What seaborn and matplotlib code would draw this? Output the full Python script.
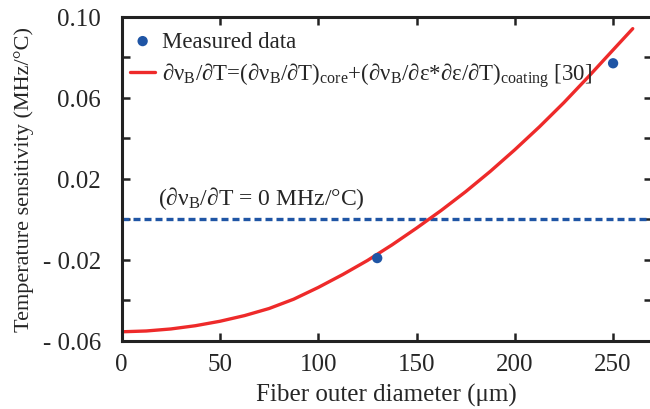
import matplotlib
matplotlib.use("Agg")
import matplotlib.pyplot as plt
import seaborn as sns
import pandas as pd
from matplotlib.ticker import FixedLocator, FuncFormatter

# fitted curve
diameter_fit = [0, 12.5, 25, 37.5, 50, 62.5, 75, 87.5, 100, 112.5, 125, 137.5,
                150, 162.5, 175, 187.5, 200, 212.5, 225, 237.5, 250, 260]
sens_fit = [-0.0557, -0.0553, -0.0543, -0.0527, -0.0505, -0.0477, -0.0442, -0.0396,
            -0.0338, -0.0274, -0.0205, -0.0128, -0.0045, 0.0042, 0.0135, 0.0235,
            0.0342, 0.0455, 0.0575, 0.0703, 0.0835, 0.0940]

# measured points
diameter_meas = [130, 250]
sens_meas = [-0.0193, 0.0769]

x_ticks = [0, 50, 100, 150, 200, 250]
y_major = [-0.06, -0.02, 0.02, 0.06, 0.10]
y_minor = [-0.04, 0.0, 0.04, 0.08]

blue = "#1f55a5"
red = "#ee2a2a"

sns.set_style("ticks")
plt.rcParams["font.family"] = ["Liberation Serif", "DejaVu Serif"]
plt.rcParams["mathtext.fontset"] = "custom"
plt.rcParams["mathtext.rm"] = "Liberation Serif"
plt.rcParams["mathtext.it"] = "Liberation Serif:italic"
plt.rcParams["font.size"] = 18

fit_df = pd.DataFrame({"d": diameter_fit, "s": sens_fit})
meas_df = pd.DataFrame({"d": diameter_meas, "s": sens_meas})

fig = plt.figure(figsize=(6.5, 4.1), dpi=100)
ax = fig.add_axes([121.7 / 650, 1 - 341.5 / 410, (652 - 121.7) / 650, (341.5 - 17.5) / 410])

sns.scatterplot(data=meas_df, x="d", y="s", ax=ax, color=blue, s=55,
                edgecolor="none", zorder=3, label="Measured data")
fit_label = (r"∂ν$_\mathrm{B}$/∂T=(∂ν$_\mathrm{B}$/∂T)$_\mathrm{core}$"
             r"+(∂ν$_\mathrm{B}$/∂ε*∂ε/∂T)$_\mathrm{coating}$ [30]")
sns.lineplot(data=fit_df, x="d", y="s", ax=ax, color=red, lw=2.4, label=fit_label)

ax.axhline(0, color=blue, lw=2.4, dashes=(2.1, 1.2), dash_capstyle="butt", zorder=1)
ax.text(18.5, 0.0108, r"(∂ν$_\mathrm{B}$/∂T = 0 MHz/°C)", ha="left", va="center", fontsize=17)

ax.set_xlim(0, 269.8)
ax.set_ylim(-0.06, 0.10)
ax.set_xticks(x_ticks)
ax.yaxis.set_major_locator(FixedLocator(y_major))
ax.yaxis.set_minor_locator(FixedLocator(y_minor))
ax.yaxis.set_major_formatter(FuncFormatter(lambda v, p: f"- {abs(v):.2f}" if v < -1e-9 else f"{v:.2f}"))

ax.tick_params(axis="both", which="both", direction="in", top=True, right=True,
               length=6, width=1.8, color="#222222", labelsize=18)
ax.tick_params(axis="y", which="major", pad=15)
ax.tick_params(axis="x", which="major", pad=9)
for sp in ax.spines.values():
    sp.set_linewidth(2.2)
    sp.set_color("#222222")

ax.set_xlabel("Fiber outer diameter (μm)", fontsize=18, labelpad=6)
ax.set_ylabel("Temperature sensitivity (MHz/°C)", fontsize=16, labelpad=6)

ax.legend(loc="upper left", bbox_to_anchor=(0.0157, 0.955), frameon=False,
          borderpad=0, borderaxespad=0, handlelength=1.1, handletextpad=0.3,
          labelspacing=0.35, fontsize=16.5)

fig.savefig("out.png", dpi=100)
